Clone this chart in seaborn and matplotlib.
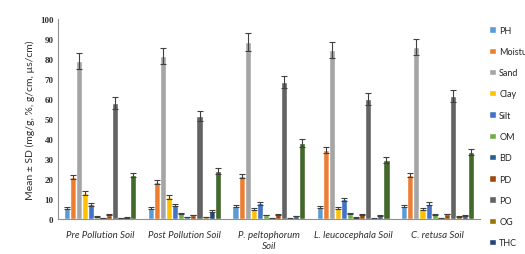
import matplotlib
matplotlib.use("Agg")
import matplotlib.pyplot as plt
import seaborn as sns
import pandas as pd
import numpy as np

# soil groups (x axis)
groups = ["Pre Pollution Soil", "Post Pollution Soil", "P. peltophorum\nSoil",
          "L. leucocephala Soil", "C. retusa Soil"]
params = ["PH", "Moisture", "Sand", "Clay", "Silt", "OM", "BD", "PD", "PO", "OG", "THC", "EC"]

# mean values per parameter, one entry per soil group
ph = [5.5, 5.5, 6.5, 6.0, 6.3]
moi = [21.0, 18.5, 21.5, 34.5, 22.0]
sand = [79.0, 81.5, 88.5, 84.5, 86.0]
clay = [12.8, 10.8, 5.0, 5.5, 4.8]
silt = [7.3, 7.0, 7.8, 9.8, 7.7]
om = [1.2, 2.8, 2.0, 2.7, 2.3]
bd = [0.5, 1.0, 0.4, 0.7, 0.5]
pd_ = [2.2, 2.0, 2.4, 2.3, 2.5]
po = [58.0, 51.5, 68.5, 60.0, 61.5]
og = [0.5, 1.0, 0.3, 0.3, 1.3]
thc = [0.8, 4.0, 1.5, 1.7, 1.7]
ec = [22.0, 24.0, 38.0, 29.5, 33.3]

# standard deviations
ph_sd = [0.5, 0.5, 0.5, 0.5, 0.5]
moi_sd = [1.2, 1.0, 1.2, 1.7, 1.2]
sand_sd = [4.0, 4.0, 4.5, 4.0, 4.0]
clay_sd = [1.0, 1.0, 0.5, 0.5, 0.5]
silt_sd = [0.6, 0.5, 0.6, 0.6, 0.6]
om_sd = [0.2, 0.3, 0.2, 0.3, 0.2]
bd_sd = [0.1, 0.1, 0.1, 0.1, 0.1]
pd_sd = [0.2, 0.2, 0.2, 0.2, 0.2]
po_sd = [3.0, 2.5, 3.0, 3.0, 3.0]
og_sd = [0.1, 0.1, 0.1, 0.1, 0.1]
thc_sd = [0.2, 0.3, 0.2, 0.2, 0.2]
ec_sd = [1.2, 1.5, 2.0, 1.5, 1.5]

colors = ["#5B9BD5", "#ED7D31", "#A5A5A5", "#FFC000", "#4472C4", "#70AD47",
          "#255E91", "#9E480E", "#636363", "#997300", "#264478", "#43682B"]

means = [ph, moi, sand, clay, silt, om, bd, pd_, po, og, thc, ec]
sds = [ph_sd, moi_sd, sand_sd, clay_sd, silt_sd, om_sd, bd_sd, pd_sd, po_sd, og_sd, thc_sd, ec_sd]

rows = []
for p, m, s in zip(params, means, sds):
    for g, v, e in zip(groups, m, s):
        rows.append({"group": g, "param": p, "mean": v, "sd": e})
df = pd.DataFrame(rows)

sns.set_style("white")
fig = plt.figure(figsize=(5.25, 2.55), dpi=100)
ax = fig.add_axes([0.110, 0.137, 0.804, 0.785])

sns.barplot(data=df, x="group", y="mean", hue="param", order=groups, hue_order=params,
            palette=colors, width=0.86, errorbar=None, saturation=1, ax=ax, legend=True)

# error bars from the drawn bars
for cont, p in zip(ax.containers, params):
    sub = df[df.param == p].set_index("group").loc[groups]
    xs = [b.get_x() + b.get_width() / 2 for b in cont]
    hs = [b.get_height() for b in cont]
    ax.errorbar(xs, hs, yerr=sub["sd"].values, fmt="none", ecolor="#404040",
                elinewidth=0.8, capsize=2, capthick=0.8)

ax.set_ylim(0, 100)
ax.set_xlim(-0.5, len(groups) - 0.5)
ax.set_yticks(range(0, 101, 10))
ax.set_yticklabels([str(v) for v in range(0, 101, 10)], family="Liberation Serif",
                   fontsize=6.5, fontweight="bold", color="#303030")
ax.set_xticks(range(len(groups)))
ax.set_xticklabels(groups, family="Lato", style="italic", fontsize=7, color="#303030")
ax.set_xticks(np.arange(-0.5, len(groups), 1.0), minor=True)
ax.tick_params(axis="x", which="major", length=0, pad=8)
ax.tick_params(axis="x", which="minor", length=4, direction="inout", color="#808080", width=0.8)
ax.tick_params(axis="y", length=0, pad=3)
ax.set_xlabel("")
ax.set_ylabel("Mean \u00b1 SD (mg/g, %, g/cm, \u00b5s/cm)", family="Lato", fontsize=7.5,
              color="#303030", labelpad=4)

for side in ["top", "right"]:
    ax.spines[side].set_visible(False)
for side in ["left", "bottom"]:
    ax.spines[side].set_color("#909090")
    ax.spines[side].set_linewidth(0.8)

handles, labels = ax.get_legend_handles_labels()
ax.legend_.remove()
# the reference legend runs off the bottom edge after THC
fig.legend(handles[:11], labels[:11], loc="upper left", bbox_to_anchor=(0.925, 0.91),
           frameon=False, prop={"family": "Lato", "size": 6.5}, handlelength=0.7,
           handleheight=0.7, handletextpad=0.4, labelspacing=1.36, borderaxespad=0)

fig.savefig("out.png", dpi=100)
